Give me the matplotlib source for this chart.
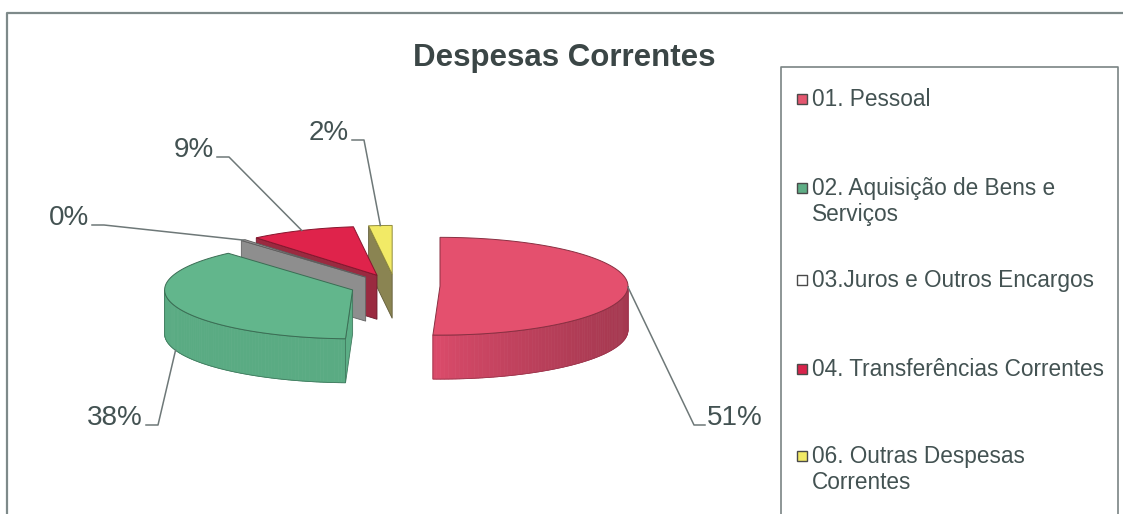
#!/usr/bin/env python3
"""
Despesas Correntes - exploded 3D pie (Excel style) redrawn with matplotlib.
"""

import numpy as np
import matplotlib
matplotlib.use("Agg")
import matplotlib.pyplot as plt
from matplotlib.patches import Polygon, Rectangle
from matplotlib.colors import to_rgb

plt.rcParams['font.family'] = ['Liberation Sans', 'DejaVu Sans']

# data
categories = ["01. Pessoal",
              "02. Aquisição de Bens e\nServiços",
              "03.Juros e Outros Encargos",
              "04. Transferências Correntes",
              "06. Outras Despesas\nCorrentes"]
values = [50.6, 37.9, 0.4, 9.1, 2.0]
pct_labels = ["51%", "38%", "0%", "9%", "2%"]

# styles
top_colors = ['#E4506E', '#62B68C', '#9C9C9C', '#DF234B', '#F2EA66']
side_colors = ['#DE4C6C', '#5CAE86', '#8E8E8E', '#9A2A40', '#8A8452']
legend_colors = ['#E4566F', '#5FAE86', '#FFFFFF', '#D8234B', '#F2EA66']
TEXT = '#435252'
LINE = '#6E7878'

W, H_IMG = 1123, 514
CX, CY = 395, 286          # pie centre (px)
R, K, THICK, EXPL = 188, 0.26, 44, 45

# label layout: text x, text y, alignment, drop of anchor point
label_layout = [(707, 418, 'left'), (143, 418, 'right'), (89, 218, 'right'),
                (214, 150, 'right'), (349, 133, 'right')]
anchor_drop = [0, THICK, 0, 0, 0]
legend_y = [99, 188, 280, 369, 456]


def rim(cx, cy, th):
    return cx + R * np.sin(th), cy - R * K * np.cos(th)


def shade(color, f):
    return tuple(min(1.0, c * f) for c in to_rgb(color))


fig = plt.figure(figsize=(W / 100, H_IMG / 100), dpi=100)
ax = fig.add_axes([0, 0, 1, 1])
ax.set_xlim(0, W)
ax.set_ylim(H_IMG, 0)
ax.axis('off')

vals = np.array(values)
bounds = np.concatenate([[0], np.cumsum(vals) / vals.sum() * 2 * np.pi])

slices = []
for i in range(len(vals)):
    t1, t2 = bounds[i], bounds[i + 1]
    mid = (t1 + t2) / 2
    cx = CX + EXPL * np.sin(mid)
    cy = CY - EXPL * K * np.cos(mid)
    slices.append((i, t1, t2, mid, cx, cy))

# paint back to front
order = sorted(slices, key=lambda s: s[5])
for rank, (i, t1, t2, mid, cx, cy) in enumerate(order):
    z = 2 + rank * 10
    edge = shade(side_colors[i], 0.7)
    # radial cut faces
    for th, visible in ((t1, np.sin(t1) < -1e-6), (t2, np.sin(t2) > 1e-6)):
        if visible:
            x, y = rim(cx, cy, th)
            ax.add_patch(Polygon([(cx, cy), (x, y), (x, y + THICK), (cx, cy + THICK)],
                                 closed=True, facecolor=side_colors[i],
                                 edgecolor=edge, lw=0.6, zorder=z))
    # outer curved side (front half only), darker towards the right
    a = max(t1, np.pi / 2)
    b = min(t2, 3 * np.pi / 2)
    if b > a:
        ths = np.linspace(a, b, 80)
        for j in range(len(ths) - 1):
            x0, y0 = rim(cx, cy, ths[j])
            x1, y1 = rim(cx, cy, ths[j + 1])
            s = np.sin((ths[j] + ths[j + 1]) / 2)
            f = 0.98 - 0.24 * max(s, 0) ** 0.8
            col = shade(side_colors[i], f)
            ax.add_patch(Polygon([(x0, y0), (x1, y1), (x1, y1 + THICK), (x0, y0 + THICK)],
                                 closed=True, facecolor=col, edgecolor=col,
                                 lw=0.5, zorder=z + 1))
        xs, ys = rim(cx, cy, ths)
        outline = list(zip(xs, ys)) + list(zip(xs[::-1], ys[::-1] + THICK))
        ax.add_patch(Polygon(outline, closed=True, fill=False, edgecolor=edge,
                             lw=0.6, zorder=z + 2))
    # top face
    ths = np.linspace(t1, t2, max(4, int((t2 - t1) * 60)))
    xs, ys = rim(cx, cy, ths)
    pts = [(cx, cy)] + list(zip(xs, ys))
    ax.add_patch(Polygon(pts, closed=True, facecolor=top_colors[i],
                         edgecolor=shade(top_colors[i], 0.6), lw=0.7, zorder=z + 3))

# data labels with leader lines
for (i, t1, t2, mid, cx, cy) in slices:
    tx, ty, align = label_layout[i]
    axp, ayp = rim(cx, cy, mid)
    ayp += anchor_drop[i]
    yl = ty + 7
    if align == 'left':
        path = [(axp, ayp), (tx - 13, yl), (tx - 2, yl)]
    else:
        path = [(tx + 3, yl), (tx + 15, yl), (axp, ayp)]
    px, py = zip(*path)
    ax.plot(px, py, color=LINE, lw=1.1, zorder=100)
    ax.text(tx, ty, pct_labels[i], ha=align, va='center', fontsize=20,
            color=TEXT, zorder=101)

# title
ax.text(564, 58, "Despesas Correntes", ha='center', va='center', fontsize=22.5,
        fontweight='bold', color='#3B4646')

# legend box
ax.plot([781, 781, 1118, 1118], [H_IMG + 5, 67, 67, H_IMG + 5], color='#7A8484', lw=1.2)
for k, lab in enumerate(categories):
    y = legend_y[k]
    ax.add_patch(Rectangle((797, y - 5), 10, 10, facecolor=legend_colors[k],
                           edgecolor='#4A4A4A', lw=1.0))
    ax.text(812, y - 11, lab, ha='left', va='top', fontsize=16.3, color=TEXT,
            linespacing=1.15)

# outer chart border
ax.plot([7, 7, W + 5], [H_IMG + 5, 13, 13], color='#7E8A8A', lw=1.6)

fig.savefig("out.png", dpi=100)
